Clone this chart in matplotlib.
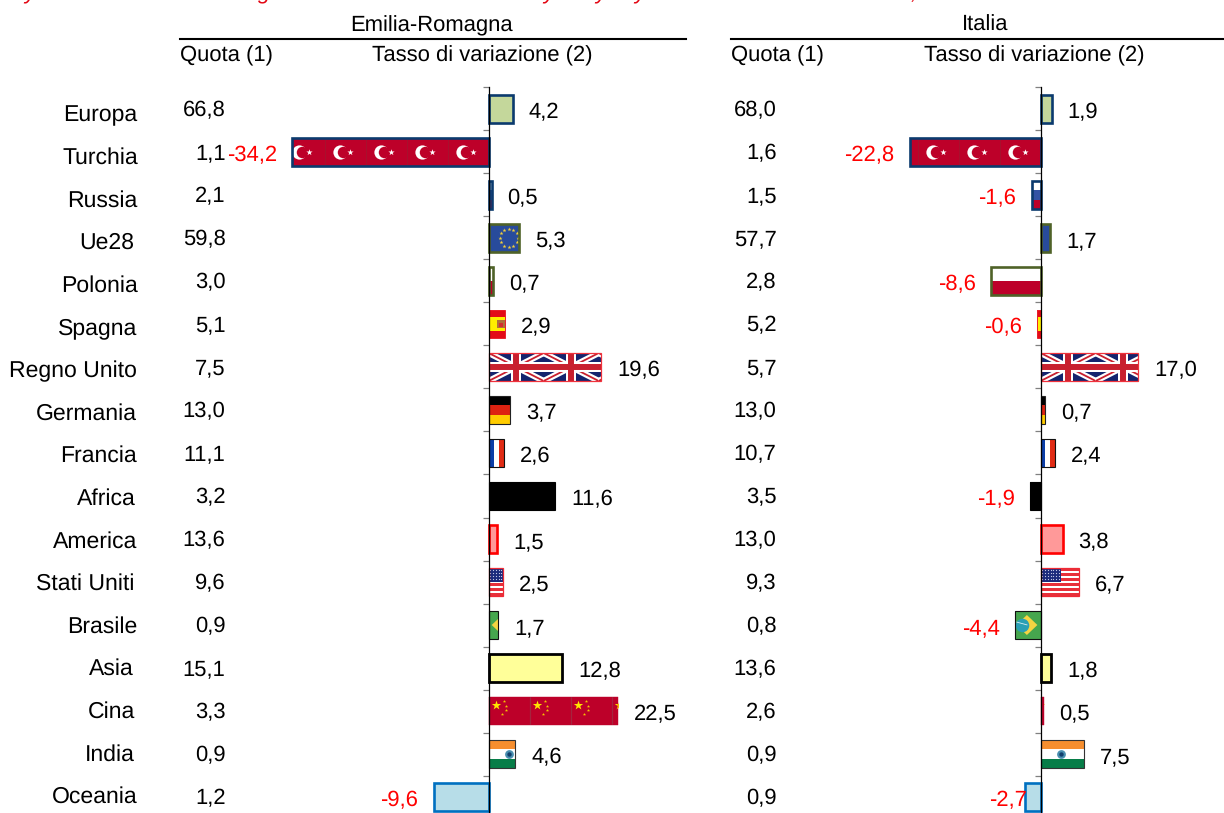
import matplotlib
matplotlib.use('Agg')
import matplotlib.pyplot as plt
from matplotlib.lines import Line2D
from matplotlib.patches import Polygon, Rectangle

plt.rcParams['font.family'] = 'Liberation Sans'
plt.rcParams['text.hinting'] = 'none'
plt.rcParams['text.hinting_factor'] = 1

W, H = 1224, 813
PX = 5.75   # pixels per unit of the rate axis
ROW = 43    # pixels per row
FS = 15.6

categories = ['Europa', 'Turchia', 'Russia', 'Ue28', 'Polonia', 'Spagna', 'Regno Unito',
              'Germania', 'Francia', 'Africa', 'America', 'Stati Uniti', 'Brasile',
              'Asia', 'Cina', 'India', 'Oceania']

quota_er = [66.8, 1.1, 2.1, 59.8, 3.0, 5.1, 7.5, 13.0, 11.1, 3.2, 13.6, 9.6, 0.9, 15.1, 3.3, 0.9, 1.2]
tasso_er = [4.2, -34.2, 0.5, 5.3, 0.7, 2.9, 19.6, 3.7, 2.6, 11.6, 1.5, 2.5, 1.7, 12.8, 22.5, 4.6, -9.6]
quota_it = [68.0, 1.6, 1.5, 57.7, 2.8, 5.2, 5.7, 13.0, 10.7, 3.5, 13.0, 9.3, 0.8, 13.6, 2.6, 0.9, 0.9]
tasso_it = [1.9, -22.8, -1.6, 1.7, -8.6, -0.6, 17.0, 0.7, 2.4, -1.9, 3.8, 6.7, -4.4, 1.8, 0.5, 7.5, -2.7]

# what is left visible of the cropped red title, and where
title_bits = ['y', 'g', 'y', 'y', 'y', ',']
title_x = [24, 258, 543, 595, 634, 911]

# the category labels do not line up exactly in the original
label_right = [137, 138, 137, 134, 138, 137, 137, 137, 137, 136, 137, 134, 137, 134, 135, 135, 138]

fills = {'Europa': '#c4d79b', 'Turchia': '#bd0029', 'Russia': '#ffffff', 'Ue28': '#284b9b',
         'Polonia': '#ffffff', 'Spagna': '#e30b17', 'Regno Unito': '#14246e', 'Germania': '#000000',
         'Francia': '#ffffff', 'Africa': '#000000', 'America': '#ff9999', 'Stati Uniti': '#ffffff',
         'Brasile': '#46a64e', 'Asia': '#ffff99', 'Cina': '#bd0029', 'India': '#ffffff',
         'Oceania': '#b7dde8'}
edges = {'Europa': ('#0b3a6e', 1.9), 'Turchia': ('#0b3a6e', 1.9), 'Russia': ('#0b3a6e', 1.9),
         'Ue28': ('#4f6228', 1.9), 'Polonia': ('#4f6228', 1.9), 'Spagna': ('#e8202c', 0.7),
         'Regno Unito': ('#f0323c', 0.9), 'Germania': ('#222222', 0.8), 'Francia': ('#111111', 0.8),
         'Africa': ('#000000', 0.8), 'America': ('#ff0000', 1.9), 'Stati Uniti': ('#ee2a35', 0.9),
         'Brasile': ('#111111', 0.8), 'Asia': ('#000000', 2.0), 'Cina': ('#bd0029', 0.3),
         'India': ('#333333', 0.8), 'Oceania': ('#0070c0', 1.9)}


def hstripes(ax, clip, xa, xb, row, colors):
    h = 0.65 / len(colors)
    for k, c in enumerate(colors):
        p = Rectangle((xa, row - 0.325 + k * h), xb - xa, h, color=c, lw=0, zorder=2.1)
        ax.add_patch(p)
        p.set_clip_path(clip)


def dots(ax, clip, xs, ys, **kw):
    s = ax.scatter(xs, ys, zorder=kw.pop('zorder', 2.3), linewidths=0, **kw)
    s.set_clip_path(clip)


def lines(ax, clip, xs, ys, color, lw):
    l, = ax.plot(xs, ys, color=color, lw=lw, zorder=2.2, solid_capstyle='butt')
    l.set_clip_path(clip)


def turkey(ax, clip, xa, xb, row):
    t = 41 / PX
    x = 0
    while x > xa - t:
        lines(ax, clip, [x, x], [row - 0.4, row + 0.4], '#a5142e', 0.6)
        c = x - 26 / PX
        dots(ax, clip, [c], [row], s=105, color='#ffffff')
        dots(ax, clip, [c + 3 / PX], [row], s=68, color='#bd0029', zorder=2.4)
        dots(ax, clip, [c + 10 / PX], [row], s=22, color='#ffffff', marker='*', zorder=2.5)
        x -= t


def china(ax, clip, xa, xb, row):
    t = 41 / PX
    x = 0
    while x < xb:
        lines(ax, clip, [x, x], [row - 0.4, row + 0.4], '#a5243e', 0.9)
        dots(ax, clip, [x + 7 / PX], [row - 6.5 / ROW], s=50, color='#ffe600', marker='*')
        for dx, dy in [(15, -10.5), (17, -5.5), (17, -1), (13, 3)]:
            dots(ax, clip, [x + dx / PX], [row + dy / ROW], s=6, color='#f5c400', marker='*')
        x += t


def union_jack(ax, clip, xa, xb, row):
    t = 55 / PX
    top, bot = row - 0.325, row + 0.325
    x = 0
    while x < xb:
        x1 = x + t
        for ya, yb in [(top, bot), (bot, top)]:
            lines(ax, clip, [x, x1], [ya, yb], '#ffffff', 4.4)
            lines(ax, clip, [x, x1], [ya, yb], '#c8202f', 1.3)
        m = x + t / 2
        lines(ax, clip, [m, m], [top, bot], '#ffffff', 7.2)
        lines(ax, clip, [x, x1], [row, row], '#ffffff', 7.2)
        lines(ax, clip, [m, m], [top, bot], '#c8202f', 4.3)
        lines(ax, clip, [x, x1], [row, row], '#c8202f', 4.3)
        x = x1


def usa(ax, clip, xa, xb, row):
    n = 11
    h = 0.65 / n
    for k in range(0, n, 2):
        p = Rectangle((0, row - 0.325 + k * h), 39 / PX, h, color='#e8303a', lw=0, zorder=2.1)
        ax.add_patch(p)
        p.set_clip_path(clip)
    p = Rectangle((0, row - 0.325), 20 / PX, 0.32, color='#1b2a7c', lw=0, zorder=2.2)
    ax.add_patch(p)
    p.set_clip_path(clip)
    xs, ys = [], []
    for a in range(7):
        for b in range(4):
            xs.append((1.5 + a * 2.8) / PX)
            ys.append(row - 0.325 + (2 + b * 3) / ROW)
    dots(ax, clip, xs, ys, s=0.8, color='#c8cce8')


def brazil(ax, clip, xa, xb, row):
    x0 = xa + 1 / PX if xa < 0 else 3 / PX
    w = 21 / PX
    p = Polygon([(x0, row), (x0 + w / 2, row - 10 / ROW), (x0 + w, row), (x0 + w / 2, row + 10 / ROW)],
                color='#f5d442', lw=0, zorder=2.2)
    ax.add_patch(p)
    p.set_clip_path(clip)
    if xa < 0:
        dots(ax, clip, [x0 + 6 / PX], [row], s=95, color='#2a9fb5')
        lines(ax, clip, [x0, x0 + 11 / PX], [row - 3 / ROW, row], '#d8eef2', 0.6)
        # line goes under the disc otherwise
        ax.lines[-1].set_zorder(2.5)


def eu(ax, clip, xa, xb, row):
    xs = [20, 24.5, 27.8, 29, 27.8, 24.5, 20, 15.5, 12.2, 11, 12.2, 15.5]
    ys = [-9, -7.8, -4.5, 0, 4.5, 7.8, 9, 7.8, 4.5, 0, -4.5, -7.8]
    dots(ax, clip, [v / PX for v in xs], [row + v / ROW for v in ys], s=9, color='#f2cf3a', marker='*')


def draw_flag(ax, name, xa, xb, row):
    clip = Rectangle((xa, row - 0.325), xb - xa, 0.65, transform=ax.transData)
    if name == 'Turchia':
        turkey(ax, clip, xa, xb, row)
    elif name == 'Russia':
        hstripes(ax, clip, xa, xb, row, ['#ffffff', '#3353a4', '#bd0029'])
    elif name == 'Ue28':
        eu(ax, clip, xa, xb, row)
    elif name == 'Polonia':
        hstripes(ax, clip, xa, xb, row, ['#ffffff', '#bd0029'])
    elif name == 'Spagna':
        hstripes(ax, clip, xa, xb, row, ['#e30b17', '#ffee00', '#ffee00', '#e30b17'])
        if xb > 1:
            dots(ax, clip, [12.5 / PX], [row], s=30, color='#b0703a', marker='s')
            dots(ax, clip, [12.5 / PX], [row + 1 / ROW], s=8, color='#d32f2f', marker='s', zorder=2.4)
    elif name == 'Regno Unito':
        union_jack(ax, clip, xa, xb, row)
    elif name == 'Germania':
        hstripes(ax, clip, xa, xb, row, ['#000000', '#dd2211', '#ffcc00'])
    elif name == 'Francia':
        w = (xb - xa) / 3
        for k, c in enumerate(['#0b3ea8', '#ffffff', '#e02b14']):
            p = Rectangle((xa + k * w, row - 0.325), w, 0.65, color=c, lw=0, zorder=2.1)
            ax.add_patch(p)
            p.set_clip_path(clip)
    elif name == 'Stati Uniti':
        usa(ax, clip, xa, xb, row)
    elif name == 'Brasile':
        brazil(ax, clip, xa, xb, row)
    elif name == 'Cina':
        china(ax, clip, xa, xb, row)
    elif name == 'India':
        hstripes(ax, clip, xa, xb, row, ['#f68e2e', '#ffffff', '#077d48'])
        dots(ax, clip, [20 / PX], [row], s=40, color='#4a8fb0')
        dots(ax, clip, [20 / PX], [row], s=10, color='#123f6d', zorder=2.4)


def panel(left, right, zero, quota, tasso, title, title_x, tasso_x):
    ax = fig.add_axes([left / W, (H - 818.5) / H, (right - left) / W, 731 / H])
    ax.set_xlim((left - zero) / PX, (right - zero) / PX)
    ax.set_ylim(16.5, -0.5)
    ax.set_autoscale_on(False)
    ax.patch.set_visible(False)
    rows = list(range(len(categories)))

    ax.barh(rows, tasso, height=0.65, color=[fills[c] for c in categories], lw=0, zorder=2)
    for row, name in enumerate(categories):
        v = tasso[row]
        draw_flag(ax, name, min(v, 0), max(v, 0), row)
    ax.barh(rows, tasso, height=0.65, color='none', zorder=3,
            edgecolor=[edges[c][0] for c in categories], linewidth=[edges[c][1] for c in categories])

    for s in ['top', 'right', 'bottom']:
        ax.spines[s].set_visible(False)
    ax.spines['left'].set_position(('data', 0))
    ax.spines['left'].set_linewidth(0.9)
    ax.spines['left'].set_zorder(4)
    ax.set_yticks([r - 0.5 for r in rows] + [16.5])
    ax.set_yticklabels([])
    ax.set_xticks([])
    ax.tick_params(axis='y', length=4, width=0.9, color='#808080', left=True)

    for row, v in enumerate(tasso):
        txt = f'{abs(v):.1f}'.replace('.', ',')
        if v < 0:
            gap = -1 if v == -2.7 else 11
            ax.annotate('-' + txt, xy=(v, row), xytext=(-gap, -6.4), textcoords='offset points',
                        ha='right', va='baseline', color='#ff0000', fontsize=FS, zorder=5)
        else:
            ax.annotate(txt, xy=(v, row), xytext=(11.5, -6.4), textcoords='offset points',
                        ha='left', va='baseline', color='#000000', fontsize=FS, zorder=5)

    qx = (left + 45.5 - zero) / PX
    for row, q in enumerate(quota):
        ax.annotate(f'{q:.1f}'.replace('.', ','), xy=(qx, row), xytext=(0, -5), textcoords='offset points',
                    ha='right', va='baseline', fontsize=FS)

    fig.add_artist(Line2D([left / W, right / W], [1 - 39 / H, 1 - 39 / H], color='black', lw=1.5))
    fig.text(title_x / W, 1 - 31 / H, title, ha='center', va='baseline', fontsize=FS)
    fig.text(left / W, 1 - 61.5 / H, 'Quota (1)', ha='left', va='baseline', fontsize=FS)
    fig.text(tasso_x / W, 1 - 61.5 / H, 'Tasso di variazione (2)', ha='center', va='baseline', fontsize=FS)


fig = plt.figure(figsize=(W / 100, H / 100), dpi=100)

panel(180, 686, 488.7, quota_er, tasso_er, 'Emilia-Romagna', 432, 482)
panel(731, 1224, 1040.7, quota_it, tasso_it, 'Italia', 985, 1034)

for i, name in enumerate(categories):
    fig.text(label_right[i] / W, 1 - (121.3 + 42.6 * i) / H, name, ha='right', va='baseline', fontsize=16.4)

for bit, x in zip(title_bits, title_x):
    fig.text(x / W, 1 + 1 / H, bit, ha='left', va='baseline', fontsize=16, style='italic', color='#e30613')

fig.savefig('out.png', dpi=100)
